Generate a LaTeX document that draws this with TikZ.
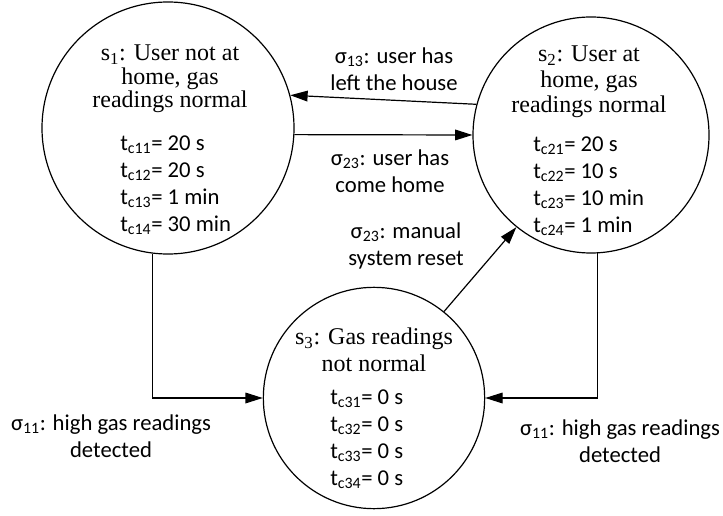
\documentclass[tikz,border=0pt]{standalone}
\usepackage{fontspec}
\setmainfont{Liberation Serif}
\newfontfamily\calibri{Carlito}
\usetikzlibrary{shapes.geometric, arrows.meta}
\newcommand{\tightlines}{\lineskiplimit=-20pt\relax}
\tikzstyle{state} = [circle, draw = black, line width=0.9pt, inner sep=0pt]
\tikzstyle{title} = [align=center, font=\fontsize{18}{17.5}\selectfont\tightlines, inner sep=0pt]
\tikzstyle{times} = [align=left, font=\calibri\fontsize{17}{20.25}\selectfont, inner sep=0pt]
\tikzstyle{event} = [align=center, font=\calibri\fontsize{17}{20.25}\selectfont, inner sep=0pt]
\tikzstyle{arrow} = [-{Triangle[length=13pt,width=8pt]}, line width=0.9pt]

\begin{document}
\begin{tikzpicture}[x=0.75pt, y=-0.75pt]
	\useasboundingbox (0,0) rectangle (723,516);
	\node (s1) [state, minimum size=189pt] at (168,128) {};
	\node (s2) [state, minimum size=177pt] at (591,135) {};
	\node (s3) [state, minimum size=166pt] at (374,398) {};
	
	\node (s1title) [title] at (170,79) {s\textsubscript{1}: User not at\\home, gas\\readings normal};
	\node (s1times) [times, anchor=west] at (120,185) {t\textsubscript{c11}= 20 s\\t\textsubscript{c12}= 20 s\\t\textsubscript{c13}= 1 min\\t\textsubscript{c14}= 30 min};
	\node (s2title) [title, font=\fontsize{18}{19}\selectfont\tightlines] at (589,82) {s\textsubscript{2}: User at\\home, gas\\readings normal};
	\node (s2times) [times, anchor=west] at (533,186) {t\textsubscript{c21}= 20 s\\t\textsubscript{c22}= 10 s\\t\textsubscript{c23}= 10 min\\t\textsubscript{c24}= 1 min};
	\node (s3title) [title, font=\fontsize{18}{20}\selectfont\tightlines] at (374,350) {s\textsubscript{3}: Gas readings\\not normal};
	\node (s3times) [times, anchor=west] at (330,439) {t\textsubscript{c31}= 0 s\\t\textsubscript{c32}= 0 s\\t\textsubscript{c33}= 0 s\\t\textsubscript{c34}= 0 s};
	
	\node (e13) [event] at (394,69) {σ\textsubscript{13}: user has\\left the house};
	\node (e23) [event] at (390,171) {σ\textsubscript{23}: user has\\come home};
	\node (reset) [event] at (406,246) {σ\textsubscript{23}: manual\\system reset};
	\node (e11left) [event] at (111,436) {σ\textsubscript{11}: high gas readings\\detected};
	\node (e11right) [event] at (620,441) {σ\textsubscript{11}: high gas readings\\detected};
	
	\draw [arrow](s2.165) -- (s1.15);
	\draw [arrow](s1.-3) -- (s2.west);
	\draw [arrow](s3.51) -- (s2.231);
	\draw [arrow](s1.263) |- (s3.west);
	\draw [arrow](s2.273) |- (s3.east);
\end{tikzpicture}
\end{document}
